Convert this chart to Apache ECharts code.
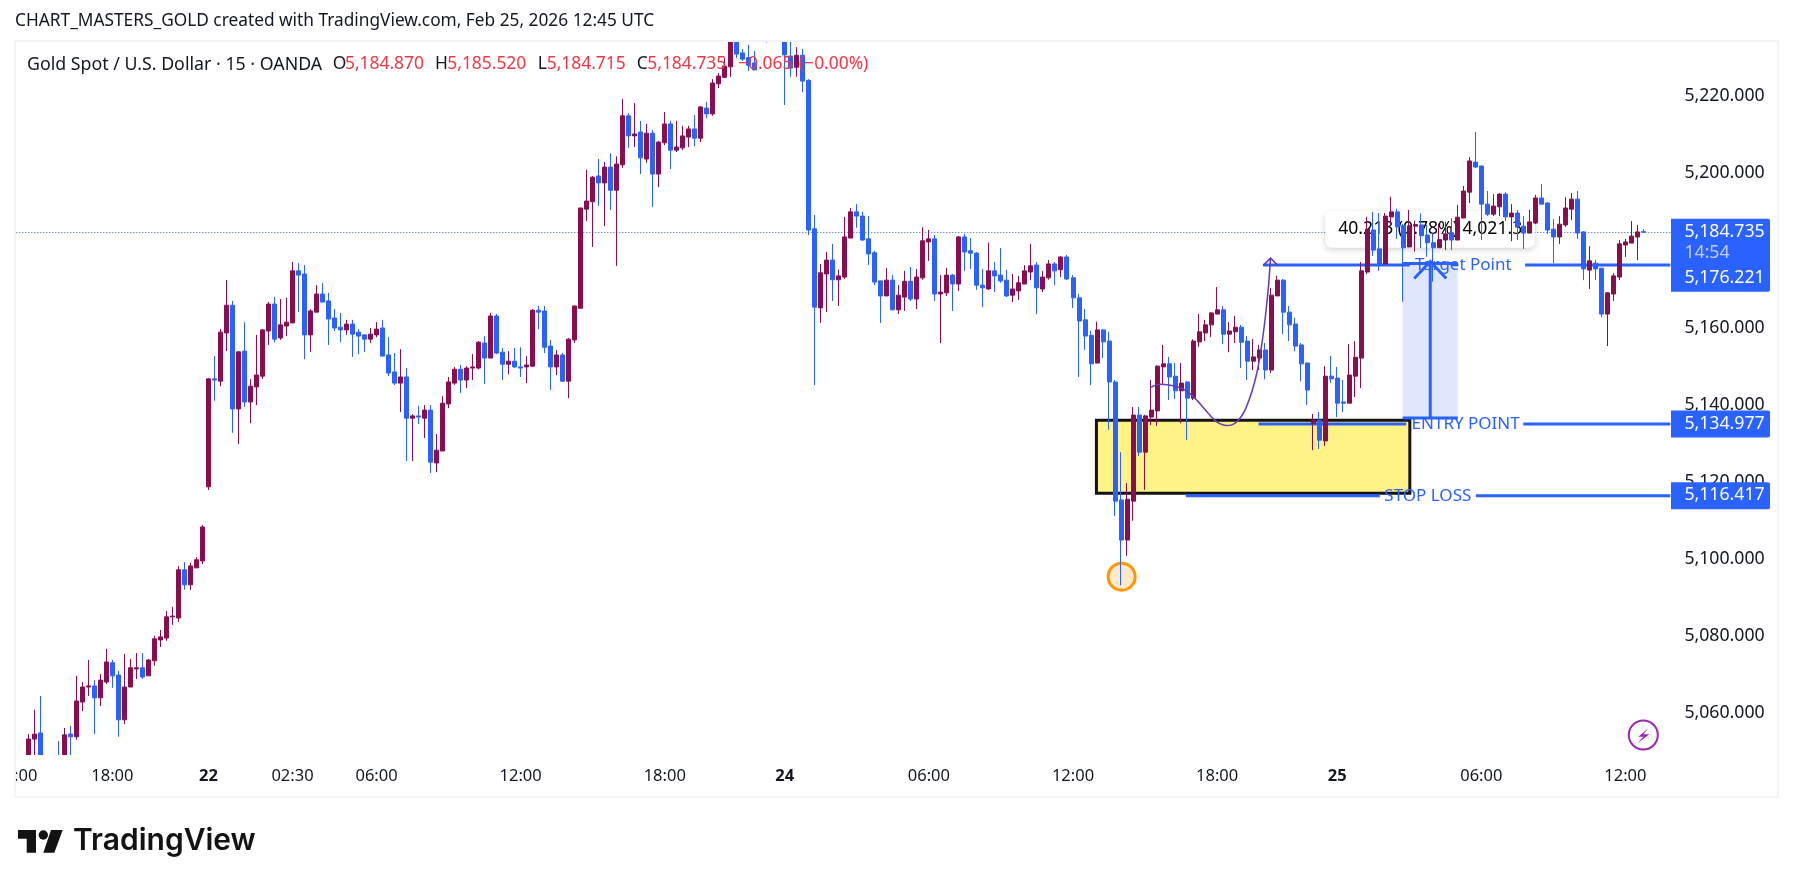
<!DOCTYPE html>
<html>
<head>
<meta charset="utf-8">
<style>html,body{margin:0;height:100%;background:#fff}#container{width:1793px;height:887px}</style>
</head>
<body>
<div id="container"></div>
<script src="https://cdn.jsdelivr.net/npm/echarts@6/dist/echarts.min.js"></script>
<script>
// 15 minute candles, one entry per bar
var opens = [
5048,5053.3,5054.9,5048,5047,5048.5,5047.5,5054.6,5053.9,5062.9,
5066.8,5067.1,5064,5068.1,5073.1,5069.9,5058.3,5066.8,5071.5,5071.8,
5069.7,5073.6,5079,5079.5,5085,5084.7,5097.2,5093.3,5097.7,5099.5,
5118.7,5146.7,5146.1,5158.6,5165.8,5138.9,5153.9,5140.7,5144.6,5147.4,
5159.1,5166.1,5157.3,5160.4,5161.2,5174.7,5173.9,5158.1,5164,5168.7,
5166.9,5162.5,5160.1,5159.4,5160.9,5158.8,5158.1,5157,5158.1,5159.9,
5152.9,5148.5,5145.6,5147.2,5136.5,5137.1,5136.5,5138.6,5124.9,5128,
5140.2,5145.6,5149.2,5146.4,5149.5,5149.5,5156,5152.1,5163,5153.6,
5150.5,5151.3,5149.8,5149.8,5150,5164.5,5164.3,5155.2,5149.8,5152.9,
5146.1,5156.8,5165,5190.7,5192.6,5199.3,5197.5,5201.6,5195.6,5202.2,
5214.9,5209.7,5210.7,5203.7,5210.4,5199.8,5207.9,5212.8,5206,5206.6,
5209.4,5211.5,5209.1,5216.9,5215.4,5223.2,5224.9,5227.6,5236,5231.2,
5230,5228.6,5235.5,5242,5238,5243,5238,5230.4,5227.5,5230.6,
5224.1,5185.6,5165.1,5173.9,5177.5,5172.4,5173.1,5183.2,5190,5188.9,
5183,5179.4,5172.1,5168.2,5172.3,5164.6,5167.9,5172,5167.4,5172.9,
5182.2,5183,5168.7,5169,5173.6,5171.3,5183.5,5179.9,5179.3,5171,
5170,5174.7,5173.6,5172.3,5168.4,5169.5,5171.3,5174.4,5176.2,5170,
5172.9,5176.5,5175,5178.3,5172.9,5167.7,5162,5158,5150.8,5159.4,
5156.5,5145.9,5115.3,5104.9,5115,5137.3,5127.7,5136.8,5138.4,5149.8,
5150.6,5147.4,5143.6,5145.9,5141.7,5156.3,5158.6,5160.7,5163.5,5164.6,
5158.3,5158.9,5160.1,5156.5,5151.3,5152.1,5154.2,5149,5168.2,5172.3,
5164,5160.9,5155.5,5150.8,5135.2,5136,5130.6,5147.4,5146.9,5140.7,
5140.4,5147.4,5152.1,5174.4,5185.3,5180.4,5176.5,5188.7,5190,5186.4,
5180.9,5186.3,5186.6,5184,5182,5180.7,5182.7,5184.6,5182.7,5188.4,
5195.1,5202.9,5201.9,5192,5189.4,5191.3,5194.6,5188.7,5189.7,5186.3,
5184.5,5187.1,5193.6,5192.3,5185.5,5183.5,5186.6,5190.7,5193.3,5184.8,
5174.9,5176.7,5175.4,5163.5,5168.7,5173.1,5181.4,5181.9,5183.5,5184.87
];
var closes = [
5053.3,5054.6,5048,5047,5048,5047.5,5054.4,5053.9,5063.2,5066.8,
5067.1,5064,5068.6,5073.3,5069.7,5058.3,5066.8,5071.8,5071.8,5069.4,
5073.8,5079.3,5079.8,5085,5085.2,5097.2,5093.3,5098.2,5099.8,5108.3,
5146.7,5146.4,5158.8,5165.8,5138.9,5153.7,5140.7,5144.8,5147.7,5159.4,
5166.1,5157,5160.7,5161.4,5174.7,5173.6,5158.1,5164.3,5168.7,5166.6,
5162.2,5159.9,5159.4,5160.9,5158.3,5157.8,5157,5158.3,5159.6,5152.6,
5148.2,5145.6,5147.2,5136.5,5137.1,5136.8,5138.6,5125.1,5128.2,5140.4,
5145.9,5149.2,5146.4,5149.5,5149.8,5156.2,5152.1,5163,5153.4,5150.5,
5151.3,5149.8,5149.5,5150.3,5164.5,5164,5154.9,5149.8,5152.9,5146.1,
5157,5165.6,5191,5192.8,5199,5197.5,5201.6,5195.6,5202.4,5214.9,
5209.7,5210.2,5204,5210.4,5199.8,5208.1,5212.8,5206,5206.8,5209.7,
5211.5,5209.1,5217.2,5215.4,5223.4,5225.2,5227.8,5236,5230.9,5229.6,
5228,5226.8,5240,5238,5243,5238,5230.7,5227.3,5230.6,5223.9,
5185.3,5165.3,5174.2,5177.5,5172.4,5173.4,5183.5,5190,5188.9,5182.7,
5179.1,5171.8,5168.2,5172.3,5164.6,5168.4,5172,5167.4,5173.1,5182.5,
5183,5168.7,5169.2,5173.6,5171.3,5183.5,5179.6,5179.3,5171,5170.3,
5174.7,5173.4,5172.1,5168.2,5170,5171.6,5174.7,5176,5170.3,5173.1,
5176.5,5174.7,5178.3,5172.6,5167.7,5161.7,5157.8,5150.6,5159.4,5156.3,
5145.9,5115,5104.9,5115.5,5137.3,5127.7,5137.1,5138.6,5150,5150.6,
5147.2,5143.6,5145.6,5141.7,5156.5,5158.9,5160.7,5163.8,5164.6,5158.3,
5159.1,5160.1,5156.2,5151.3,5152.4,5154.2,5149,5168.4,5172.3,5164,
5160.7,5155.2,5150.6,5143.8,5136,5130.8,5147.4,5146.7,5140.4,5140.4,
5147.7,5152.3,5174.7,5185.5,5180.1,5176.5,5188.9,5190,5186.1,5180.7,
5186.4,5186.7,5183.8,5182,5180.7,5182.8,5184.3,5182.7,5188.6,5195.4,
5203.2,5201.6,5192,5189.4,5191.5,5194.6,5188.7,5189.7,5186.1,5184.5,
5187.4,5193.6,5192,5185.3,5183.5,5186.8,5191,5193.3,5184.5,5175.2,
5177.3,5175.2,5163.5,5169,5173.4,5181.7,5182.2,5183.7,5184.8,5184.735
];
var lows = [
5047,5048,5047,5046,5046,5047,5047,5048,5053.1,5060.6,
5064.5,5054.6,5061.9,5067.6,5066.6,5053.9,5057.2,5066.8,5068.9,5068.9,
5069.7,5072.3,5077.2,5078.8,5082.9,5083.7,5092,5092,5097.7,5098.7,
5117.9,5141,5144.8,5153.9,5132.7,5129.8,5139.4,5135.2,5139.9,5146.7,
5155.5,5156.2,5156.8,5157.8,5161.2,5164,5151.8,5153.7,5164,5166.6,
5155.5,5159.1,5156.2,5158.1,5152.4,5153.1,5153.7,5156,5157.5,5152.6,
5147.4,5145.1,5138.1,5125.4,5125.4,5135,5131.4,5122.3,5122.5,5128,
5139.1,5145.1,5143,5144.3,5146.4,5149.2,5145.4,5152.1,5153.1,5146.4,
5147.9,5149.5,5147.2,5145.6,5149.8,5159.6,5153.4,5143.8,5147.7,5145.9,
5141.7,5156,5165,5187.6,5180.9,5191.5,5186.3,5190.5,5176,5201.4,
5206.6,5206.8,5199.8,5202.7,5191.3,5196.4,5207.3,5201.1,5205.5,5206,
5206.8,5207,5208.1,5214.3,5214.9,5222.1,5224.7,5225,5229.9,5229.1,
5226.5,5226.8,5235,5233.9,5236,5235.5,5217.7,5225,5225,5221,
5184,5145.1,5161.2,5164,5166.9,5165.6,5172.6,5183.2,5185.9,5182.5,
5176.2,5171,5161.2,5168.2,5164.6,5163.5,5164.3,5166.9,5164.8,5172.4,
5177.3,5166.9,5156,5168.2,5164.3,5169.5,5174.7,5175.2,5169.8,5165.3,
5169.8,5169.2,5171.6,5167.9,5166.6,5167.2,5171.3,5172.3,5163.5,5169.2,
5172.4,5171,5173.1,5172.3,5165.1,5147.2,5154.2,5145.1,5150.8,5152.1,
5133.5,5111.1,5093.2,5100.8,5109.9,5126.7,5117.9,5134.7,5134.5,5145.1,
5141.2,5141.5,5135.2,5130.8,5141.2,5155,5156.5,5157.5,5163.5,5155.7,
5153.6,5156,5149.5,5146.4,5149,5149,5146.6,5148.2,5168.2,5158.3,
5156.5,5153.9,5146.1,5139.9,5128.2,5128.5,5129.3,5145.6,5136.8,5138.1,
5140.4,5142,5144.3,5173.9,5178.6,5174.7,5176.5,5186.5,5183,5166.7,
5180.9,5179.7,5180.6,5178.4,5171.9,5180.7,5180.1,5180.1,5182.7,5188.4,
5192.3,5201.4,5182.7,5188.9,5188.9,5188.9,5187.6,5182.4,5182.7,5180.4,
5184.5,5186.8,5192,5184.3,5176.7,5181.7,5186.1,5187.9,5183,5172.3,
5170,5172.3,5162.7,5155.2,5166.9,5172.3,5178.3,5181.9,5177.5,5184.715
];
var highs = [
5054.6,5060.9,5064.5,5048.8,5048.9,5052.8,5056.2,5056.7,5069.7,5068.1,
5073.8,5068.6,5070.2,5076.7,5073.8,5071,5075.4,5074.1,5075.6,5075.6,
5074.1,5080.1,5081.6,5086.5,5087.6,5098.2,5099.2,5099,5100.5,5108.8,
5146.9,5152.6,5159.6,5172.3,5166.9,5153.9,5161.4,5146.7,5158.1,5159.6,
5166.6,5167.9,5167.4,5167.7,5177,5176.7,5176.2,5164.8,5171,5171.5,
5169,5164.8,5163.8,5162,5162,5159.6,5158.3,5159.9,5161.4,5162,
5157.5,5153.4,5154.4,5149.5,5137.6,5139.7,5139.9,5139.9,5132.4,5142.2,
5147.2,5149.8,5150.3,5150,5153.1,5156.5,5157.8,5163.8,5163.5,5154.7,
5153.9,5154.7,5154.9,5152.6,5164.8,5165.6,5165.6,5156.8,5154.2,5153.4,
5157.3,5165.7,5191.1,5200.9,5199.3,5203.7,5202.9,5205.2,5204.4,5219.3,
5215.6,5218.2,5213.6,5212.8,5211.2,5208.4,5215.9,5213.6,5213.6,5212.3,
5212.3,5215.1,5217.4,5218.5,5224.4,5226,5230,5237,5237,5232.2,
5233.3,5231.7,5242,5244,5245,5244,5239,5235,5232.7,5232.2,
5224.4,5189.2,5176.5,5179.6,5181.7,5175,5188.7,5191,5192,5190,
5188.9,5179.9,5172.2,5175.4,5173.7,5171,5174.7,5175.7,5175.2,5186,
5185.3,5184,5173.6,5175.5,5173.9,5183.7,5184.3,5183.2,5179.6,5175.2,
5182,5177,5180.6,5175,5173.9,5173.4,5176.2,5181.7,5177,5174.7,
5177.5,5177,5178.5,5178.8,5173.6,5168.7,5164.8,5159.1,5161.5,5159.6,
5158.9,5146.4,5127.7,5119.7,5139.4,5139.4,5137.4,5146.4,5150.2,5155.5,
5152.4,5150.8,5150.8,5146,5157,5163.5,5162,5164,5170.5,5165.6,
5161.4,5163,5160.7,5157.8,5157,5155.5,5156,5170.3,5173.4,5172.6,
5165.6,5162.5,5156,5150.9,5137.6,5138.1,5150,5152.6,5149.8,5146.4,
5155.7,5156.5,5177,5188.7,5190,5189.7,5189.7,5193.9,5190.8,5186.9,
5190.5,5187.7,5189.6,5186.6,5184.4,5187,5187.4,5188.3,5191.8,5196.7,
5204.2,5210.7,5202,5195.4,5194.6,5194.9,5195.1,5192,5190.5,5188.9,
5190.5,5194.4,5197.2,5192.5,5188.1,5188.9,5193.8,5194.9,5195.4,5185,
5181.1,5177.5,5175.5,5169.2,5174.1,5182.7,5183,5187.6,5186.6,5185.52
];

// time axis, bar numbers count from the first bar above
var tickBars = [-2, 14, 30, 44, 58, 82, 106, 126, 150, 174, 198, 218, 242, 266];
var tickLabels = ['14:00', '18:00', '22', '02:30', '06:00', '12:00', '18:00', '24', '06:00', '12:00', '18:00', '25', '06:00', '12:00'];
var dayLabels = ['22', '24', '25'];
var priceTicks = [5060, 5080, 5100, 5120, 5140, 5160, 5200, 5220]; // 5,180 sits behind the price tags

var PRICE_MIN = 5049.18, PRICE_MAX = 5234.04;
var BAR_FIRST = -2.5, BAR_LAST = 273.5;

// drawings on the chart
var currentPrice = 5184.735, targetPrice = 5176.221, entryPrice = 5134.977, stopPrice = 5116.417;
var zoneBars = [177.9, 230.1], zonePrices = [5135.96, 5117.03];
var entryBars = [204.9, 229.5, 249.0], entryTextBar = 239.4;
var stopBars = [192.8, 225.1, 241.1], stopTextBar = 233.1;
var targetBars = [205.7, 230.1, 249.3], targetTextBar = 239.0;
var rangeBars = [228.9, 233.5, 238.1], rangePrices = [5176.6, 5136.56];
var popupBars = [216.0, 250.9], popupPrices = [5190.2, 5180.7], popupText = '40.213 (0.78%) 4,021.3';
var lowMark = [182.1, 5095.4];
var curveBars = [186.9, 188.5, 190.7, 192.7, 194.3, 196.3, 197.9, 199.6, 201.3, 202.9, 204.6, 205.7, 206.5, 206.9];
var curvePrices = [5144.5, 5145.3, 5144.9, 5143.8, 5141.7, 5138.2, 5135.6, 5134.6, 5135.6, 5139.5, 5148.1, 5158.5, 5169.7, 5178];

var FONT = '"Noto Sans", sans-serif';
var INK = '#131722', BLUE = '#2962FF', MAROON = '#880E4F', RED = '#F23645', PURPLE = '#673AB7';

var categories = [];
for (var i = BAR_FIRST + 0.5; i < BAR_LAST; i++) {
    var at = tickBars.indexOf(i);
    categories.push(at >= 0 ? tickLabels[at] : '');
}
var blank = ['-', '-', '-', '-'];
var candles = [blank, blank].concat(opens.map(function (o, i) {
    return [o, closes[i], lows[i], highs[i]];
}));

function money(v) {
    return v.toLocaleString('en-US', {minimumFractionDigits: 3, maximumFractionDigits: 3});
}

function hline(api, fromBar, toBar, price, width) {
    var a = api.coord([fromBar, price]), b = api.coord([toBar, price]);
    return {type: 'line', shape: {x1: a[0], y1: a[1], x2: b[0], y2: b[1]}, style: {stroke: BLUE, lineWidth: width || 3}};
}

function label(api, bar, price, text, color, size) {
    var p = api.coord([bar, price]);
    return {type: 'text', style: {text: text, x: p[0], y: p[1], fill: color, fontFamily: FONT, fontSize: size || 17, align: 'center', verticalAlign: 'middle'}};
}

// drawn under the candles
function renderBelow(params, api) {
    var c = [];
    var z0 = api.coord([zoneBars[0], zonePrices[0]]), z1 = api.coord([zoneBars[1], zonePrices[1]]);
    c.push({type: 'rect', shape: {x: z0[0], y: z0[1], width: z1[0] - z0[0], height: z1[1] - z0[1]},
        style: {fill: '#FFF385', stroke: '#131313', lineWidth: 3}});

    var cur0 = api.coord([BAR_FIRST + 0.5, currentPrice]), cur1 = api.coord([BAR_LAST, currentPrice]);
    var curLine = Math.floor(cur0[1]) + 0.5;
    c.push({type: 'line', shape: {x1: cur0[0], y1: curLine, x2: cur1[0], y2: curLine},
        style: {stroke: BLUE, lineWidth: 1, lineDash: [1, 2]}});

    var r0 = api.coord([rangeBars[0], rangePrices[0]]), r2 = api.coord([rangeBars[2], rangePrices[1]]);
    c.push({type: 'rect', shape: {x: r0[0], y: r0[1], width: r2[0] - r0[0], height: r2[1] - r0[1]}, style: {fill: '#DFE7FF'}});

    c.push(hline(api, entryBars[0], entryBars[1], entryPrice));
    c.push(hline(api, entryBars[2], BAR_LAST, entryPrice));
    c.push(label(api, entryTextBar, entryPrice, 'ENTRY POINT', BLUE));
    c.push(hline(api, stopBars[0], stopBars[1], stopPrice));
    c.push(hline(api, stopBars[2], BAR_LAST, stopPrice));
    c.push(label(api, stopTextBar, stopPrice, 'STOP LOSS', BLUE));
    c.push(hline(api, targetBars[0], targetBars[1], targetPrice));
    c.push(hline(api, targetBars[2], BAR_LAST, targetPrice));
    c.push(label(api, targetTextBar, targetPrice, 'Target Point', BLUE));

    // price range tool
    c.push(hline(api, rangeBars[0], rangeBars[2], rangePrices[0]));
    c.push(hline(api, rangeBars[0], rangeBars[2], rangePrices[1]));
    var rc = api.coord([rangeBars[1], rangePrices[0]]), rb = api.coord([rangeBars[1], rangePrices[1]]);
    c.push({type: 'line', shape: {x1: rc[0], y1: rc[1], x2: rb[0], y2: rb[1]}, style: {stroke: BLUE, lineWidth: 3}});
    c.push({type: 'polyline', shape: {points: [[rc[0] - 16, rc[1] + 15], [rc[0], rc[1] - 2], [rc[0] + 16, rc[1] + 15]]},
        style: {stroke: BLUE, lineWidth: 3, fill: null}});

    var p0 = api.coord([popupBars[0], popupPrices[0]]), p1 = api.coord([popupBars[1], popupPrices[1]]);
    c.push({type: 'rect', shape: {x: p0[0], y: p0[1], width: p1[0] - p0[0], height: p1[1] - p0[1], r: 6},
        style: {fill: '#fff', shadowBlur: 6, shadowColor: 'rgba(0,0,0,0.18)', shadowOffsetY: 2}});
    c.push(label(api, rangeBars[1], (popupPrices[0] + popupPrices[1]) / 2, popupText, '#000', 17.6));

    var m = api.coord(lowMark);
    c.push({type: 'circle', shape: {cx: m[0], cy: m[1], r: 13.5},
        style: {fill: 'rgba(255,152,0,0.2)', stroke: '#FF9800', lineWidth: 3}});
    return {type: 'group', children: c};
}

// drawn over the candles and the price scale
function renderAbove(params, api) {
    var c = [];
    var pts = curveBars.map(function (b, i) { return api.coord([b, curvePrices[i]]); });
    c.push({type: 'polyline', shape: {points: pts, smooth: 0.3}, style: {stroke: PURPLE, lineWidth: 1.5, fill: null}});
    var tip = pts[pts.length - 1];
    c.push({type: 'polyline', shape: {points: [[tip[0] - 7.5, tip[1] + 7.5], [tip[0], tip[1]], [tip[0] + 7.5, tip[1] + 7.5]]},
        style: {stroke: PURPLE, lineWidth: 1.5, fill: null}});

    var right = api.coord([BAR_LAST, currentPrice])[0];
    function tag(yTop, h) {
        return {type: 'rect', shape: {x: right + 0.6, y: yTop, width: 99, height: h, r: [0, 2, 2, 0]}, style: {fill: BLUE}};
    }
    function tagText(y, text, color) {
        return {type: 'text', style: {text: text, x: right + 14, y: y, fill: color, fontFamily: FONT, fontSize: 17.7, align: 'left', verticalAlign: 'middle'}};
    }
    var curY = api.coord([0, currentPrice])[1], entY = api.coord([0, entryPrice])[1], stpY = api.coord([0, stopPrice])[1];
    c.push(tag(curY - 13.3, 73));
    c.push(tagText(curY - 0.6, money(currentPrice), '#fff'));
    c.push(tagText(curY + 20.4, '14:54', '#BFD0FF'));
    c.push(tagText(curY + 46, money(targetPrice), '#fff'));
    c.push(tag(entY - 13.5, 27));
    c.push(tagText(entY, money(entryPrice), '#fff'));
    c.push(tag(stpY - 13.5, 27));
    c.push(tagText(stpY - 0.5, money(stopPrice), '#fff'));
    return {type: 'group', children: c};
}

function legendPiece(x, text, color, size) {
    return {type: 'text', left: x, top: 56, z: 100, silent: true,
        style: {text: text, fill: color, fontFamily: FONT, fontSize: size || 17.4}};
}

var myChart = echarts.init(document.getElementById('container'));

var option = {
    animation: false,
    backgroundColor: '#fff',
    grid: {left: 13.3, right: 122.6, top: 42, bottom: 132, outerBoundsMode: 'none'},
    xAxis: [{
        type: 'category',
        data: categories,
        boundaryGap: true,
        axisLine: {show: false},
        axisTick: {show: false},
        splitLine: {show: false},
        axisLabel: {
            interval: 0,
            margin: 13,
            color: INK,
            fontFamily: FONT,
            fontSize: 16.5,
            hideOverlap: false,
            formatter: function (v) { return dayLabels.indexOf(v) >= 0 ? '{d|' + v + '}' : v; },
            rich: {d: {fontFamily: FONT, fontSize: 16.5, fontWeight: 'bold', color: INK}}
        }
    }, {
        type: 'value', show: false, min: BAR_FIRST, max: BAR_LAST, splitLine: {show: false}
    }],
    yAxis: {
        type: 'value',
        position: 'right',
        min: PRICE_MIN,
        max: PRICE_MAX,
        axisLine: {show: false},
        axisTick: {show: false},
        splitLine: {show: false},
        axisLabel: {
            customValues: priceTicks,
            margin: 14,
            color: INK,
            fontFamily: FONT,
            fontSize: 17.7,
            formatter: money
        }
    },
    series: [{
        type: 'custom', xAxisIndex: 1, z: 1, silent: true, data: [[100, 5100]], renderItem: renderBelow
    }, {
        type: 'candlestick',
        xAxisIndex: 0,
        z: 2,
        barWidth: 4.5,
        data: candles,
        itemStyle: {color: MAROON, color0: BLUE, borderColor: MAROON, borderColor0: BLUE, borderWidth: 1}
    }, {
        type: 'custom', xAxisIndex: 1, z: 5, silent: true, data: [[100, 5100]], renderItem: renderAbove
    }],
    graphic: [
        // candles that leave the pane are covered, the pane has no clip of its own here
        {type: 'rect', z: 90, silent: true, shape: {x: 0, y: 0, width: 1793, height: 41}, style: {fill: '#fff'}},
        {type: 'rect', z: 90, silent: true, shape: {x: 0, y: 755, width: 1670, height: 10}, style: {fill: '#fff'}},
        {type: 'rect', z: 90, silent: true, shape: {x: 0, y: 755, width: 14, height: 40}, style: {fill: '#fff'}},
        {type: 'rect', z: 91, silent: true, shape: {x: 15, y: 41, width: 1763, height: 756}, style: {fill: null, stroke: '#F3F4F6', lineWidth: 2}},
        {type: 'text', left: 15, top: 13, z: 100, silent: true,
            style: {text: 'CHART_MASTERS_GOLD created with TradingView.com, Feb 25, 2026 12:45 UTC', fill: INK, fontFamily: FONT, fontSize: 17.3}},
        legendPiece(27, 'Gold Spot / U.S. Dollar · 15 · OANDA', INK, 17.8),
        legendPiece(332.7, 'O', INK), legendPiece(345, '5,184.870', RED),
        legendPiece(435, 'H', INK), legendPiece(447.3, '5,185.520', RED),
        legendPiece(537.7, 'L', INK), legendPiece(546.7, '5,184.715', RED),
        legendPiece(636.7, 'C', INK), legendPiece(647.3, '5,184.735', RED),
        legendPiece(738, '−0.065', RED), legendPiece(799, '(−0.00%)', RED),
        // TradingView logo
        {type: 'polygon', z: 100, silent: true, shape: {points: [[18, 830], [36, 830], [36, 852.7], [26.7, 852.7], [26.7, 838.7], [18, 838.7]]}, style: {fill: '#131313'}},
        {type: 'circle', z: 100, silent: true, shape: {cx: 43.3, cy: 835, r: 4.7}, style: {fill: '#131313'}},
        {type: 'polygon', z: 100, silent: true, shape: {points: [[51, 830], [62.7, 830], [54.3, 852.7], [43.3, 852.7]]}, style: {fill: '#131313'}},
        {type: 'text', left: 73, top: 826, z: 100, silent: true,
            style: {text: 'TradingView', fill: '#131313', fontFamily: 'Inter, sans-serif', fontWeight: 600, fontSize: 30}},
        // lightning icon
        {type: 'circle', z: 100, silent: true, shape: {cx: 1643.3, cy: 735, r: 14.5}, style: {fill: '#fff', stroke: '#9C27B0', lineWidth: 2}},
        {type: 'polygon', z: 100, silent: true, shape: {points: [[1648.3, 728.3], [1638.3, 736.7], [1643.3, 736.7], [1637.7, 743.3], [1649.3, 734.3], [1643.3, 734.3]]}, style: {fill: '#9C27B0'}}
    ]
};

myChart.setOption(option);
</script>
</body>
</html>
